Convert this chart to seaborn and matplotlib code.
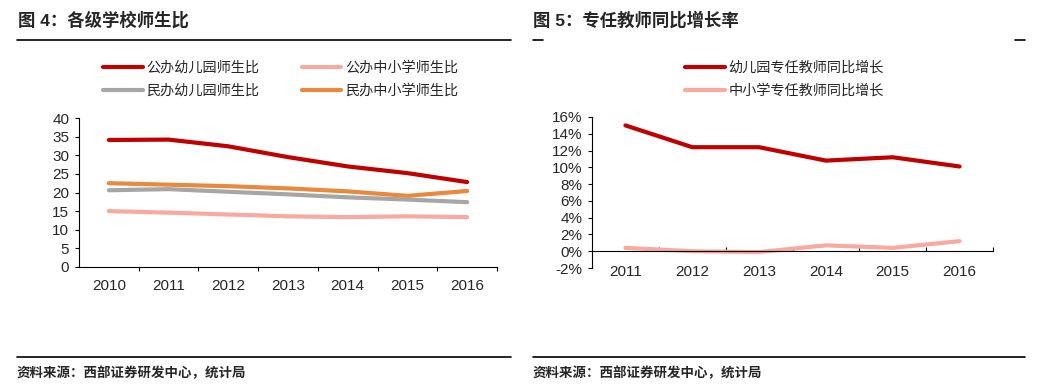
"""各级学校师生比 / 专任教师同比增长率 两图并排。"""
import matplotlib
matplotlib.use("Agg")
import matplotlib.pyplot as plt
import matplotlib.ticker as mticker
from matplotlib.lines import Line2D
import pandas as pd
import seaborn as sns

# --- 图4 数据 ---
years4 = ["2010", "2011", "2012", "2013", "2014", "2015", "2016"]
gong_you = [34.1, 34.2, 32.4, 29.5, 27.0, 25.2, 22.8]
gong_zx = [15.0, 14.6, 14.1, 13.6, 13.4, 13.6, 13.4]
min_you = [20.6, 20.9, 20.2, 19.5, 18.7, 18.1, 17.4]
min_zx = [22.5, 22.1, 21.7, 21.1, 20.3, 19.1, 20.4]
names4 = ["公办幼儿园师生比", "公办中小学师生比", "民办幼儿园师生比", "民办中小学师生比"]
colors4 = ["#C00000", "#F8A9A0", "#A6A6A6", "#E8893E"]

# --- 图5 数据 (%) ---
years5 = ["2011", "2012", "2013", "2014", "2015", "2016"]
you_growth = [15.0, 12.4, 12.4, 10.8, 11.2, 10.1]
zx_growth = [0.4, 0.0, -0.1, 0.7, 0.4, 1.2]
names5 = ["幼儿园专任教师同比增长", "中小学专任教师同比增长"]
colors5 = ["#C00000", "#F8A9A0"]

sns.set_style("white")
plt.rcParams["font.family"] = ["Liberation Sans", "Noto Sans CJK SC", "DejaVu Sans"]
plt.rcParams["axes.unicode_minus"] = False

df4 = pd.DataFrame({
    "年份": years4 * 4,
    "值": gong_you + gong_zx + min_you + min_zx,
    "类别": [n for n in names4 for _ in years4],
})
df5 = pd.DataFrame({
    "年份": years5 * 2,
    "值": you_growth + zx_growth,
    "类别": [n for n in names5 for _ in years5],
})

W, H = 1041, 389
fig = plt.figure(figsize=(W / 100, H / 100), dpi=100)
ax1 = fig.add_axes([79 / W, 1 - 267 / H, 418 / W, 149 / H])
ax2 = fig.add_axes([592 / W, 1 - 268 / H, 401 / W, 151 / H])

sns.lineplot(data=df4, x="年份", y="值", hue="类别", hue_order=names4,
             palette=colors4, linewidth=3, legend=False, ax=ax1)
sns.lineplot(data=df5, x="年份", y="值", hue="类别", hue_order=names5,
             palette=colors5, linewidth=3, legend=False, ax=ax2)

for ax in (ax1, ax2):
    for s in ("top", "right"):
        ax.spines[s].set_visible(False)
    for s in ("left", "bottom"):
        ax.spines[s].set_color("black")
        ax.spines[s].set_linewidth(0.8)
    ax.set_xlabel("")
    ax.set_ylabel("")
    ax.tick_params(axis="y", direction="out", length=3, width=0.8,
                   color="black", pad=4, labelsize=11, left=True)
    ax.tick_params(axis="x", which="major", length=0, labelsize=11)

# 图4 坐标轴
ax1.set_xlim(-0.5, len(years4) - 0.5)
ax1.set_ylim(0, 40)
ax1.yaxis.set_major_locator(mticker.MultipleLocator(5))
ax1.xaxis.set_minor_locator(mticker.FixedLocator([i + 0.5 for i in range(len(years4))]))
ax1.tick_params(axis="x", which="minor", direction="out", length=3, width=0.8,
                color="black", bottom=True)
ax1.tick_params(axis="x", which="major", pad=9)

# 图5 坐标轴
ax2.set_xlim(-0.5, len(years5) - 0.5)
ax2.set_ylim(-2, 16)
ax2.yaxis.set_major_locator(mticker.MultipleLocator(2))
ax2.yaxis.set_major_formatter(mticker.FormatStrFormatter("%d%%"))
ax2.spines["bottom"].set_position(("data", 0))
ax2.xaxis.set_minor_locator(mticker.FixedLocator([i + 0.5 for i in range(len(years5))]))
ax2.tick_params(axis="x", which="minor", direction="in", length=3, width=0.8,
                color="black", bottom=True)
ax2.tick_params(axis="x", which="major", pad=10)

# 图例
legend_kw = dict(loc="upper left", frameon=False, fontsize=10.2, handlelength=2.8,
                 handletextpad=0.25, labelspacing=0.6, borderpad=0, borderaxespad=0)
h1 = ax1.get_lines()[:4]
fig.legend([h1[0], h1[2], h1[1], h1[3]],
           [names4[0], names4[2], names4[1], names4[3]],
           bbox_to_anchor=(103 / W, 1 - 61 / H), ncol=2, columnspacing=3.0,
           **legend_kw)
h2 = ax2.get_lines()[:2]
fig.legend(h2, names5, bbox_to_anchor=(685 / W, 1 - 61 / H), **legend_kw)

# 标题、分隔线、来源
fig.text(18 / W, 1 - 20 / H, "图 4：各级学校师生比", fontsize=12.5,
         fontweight="bold", va="center", ha="left")
fig.text(533 / W, 1 - 20 / H, "图 5：专任教师同比增长率", fontsize=12.5,
         fontweight="bold", va="center", ha="left")
for x0, x1, y in [(17, 511, 40), (533, 543, 40), (1015, 1025, 40),
                  (17, 511, 357), (533, 1025, 357)]:
    fig.add_artist(Line2D([x0 / W, x1 / W], [1 - y / H, 1 - y / H],
                          color="black", linewidth=1.2, transform=fig.transFigure))
for x in (17, 533):
    fig.text(x / W, 1 - 373 / H, "资料来源：西部证券研发中心，统计局", fontsize=9.7,
             fontweight="bold", va="center", ha="left")

fig.savefig("out.png", dpi=100)
